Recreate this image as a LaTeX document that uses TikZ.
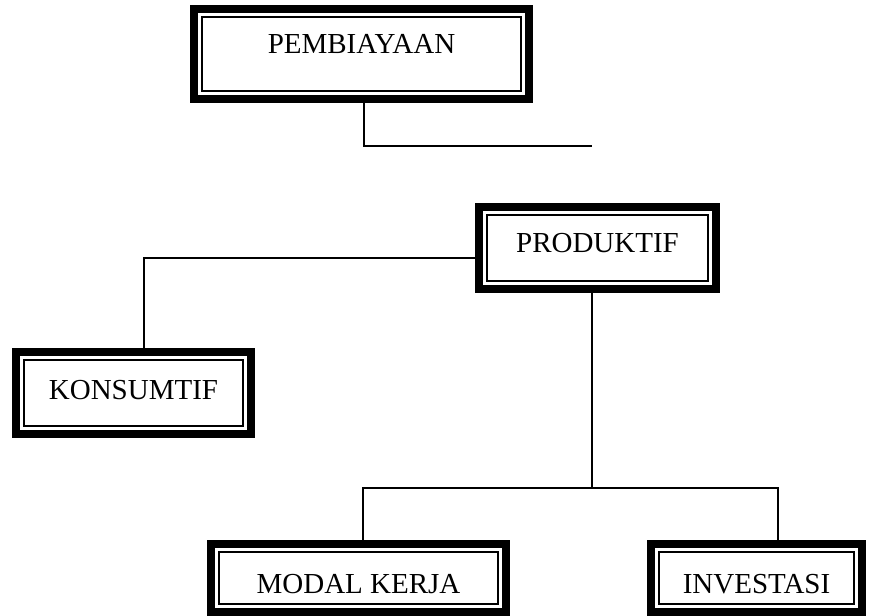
\documentclass[tikz,border=0pt]{standalone}
\usepackage{fontspec}
\setmainfont{Liberation Serif}
\usetikzlibrary{calc}

\tikzset{
  kotak/.style={draw, line width=8pt, inner sep=0pt, outer sep=0pt,
    text height=19pt, text depth=0pt,
    font=\fontsize{29}{31}\selectfont},
  garis/.style={line width=1.6pt}
}

\begin{document}
\begin{tikzpicture}[x=1pt,y=-1pt]
 			\useasboundingbox (0,0) rectangle (871,616);
 		%% \node[kotak, minimum width=w, minimum height=h] (name) at (center) {text};
 			\node[kotak, minimum width=335pt, minimum height=90pt, text depth=20pt]
 				(pemb) at (361.5,54) {PEMBIAYAAN};
 			\node[kotak, minimum width=237pt, minimum height=82pt, text depth=10pt]
 				(prod) at (597.5,248) {PRODUKTIF};
 			\node[kotak, minimum width=235pt, minimum height=82pt, text depth=6pt]
 				(kons) at (133.5,393) {KONSUMTIF};
 			\node[kotak, minimum width=295pt, minimum height=68pt, text height=31pt]
 				(modal) at (358.5,578) {MODAL KERJA};
 			\node[kotak, minimum width=211pt, minimum height=68pt, text height=31pt]
 				(invest) at (756.5,578) {INVESTASI};
 		%% garis tipis di dalam kotak
 			\foreach \n in {pemb,prod,kons,modal,invest}
 				\draw[line width=2.2pt] ($(\n.north west)+(8.3,8.3)$) rectangle ($(\n.south east)+(-8.3,-8.3)$);
 		%% penghubung
 			\coordinate (pembkaki) at (364,146);
 			\coordinate (pembujung) at (592,146);
 			\coordinate (konsatas) at (144,258);
 			\coordinate (cabang) at (592,488);
 			\coordinate (cabkiri) at (363,488);
 			\coordinate (cabkanan) at (778,488);
 			\draw[garis] (pembkaki |- pemb.south) -- (pembkaki) -- (pembujung);
 			\draw[garis] (konsatas |- kons.north) -- (konsatas) -- (konsatas -| prod.west);
 			\draw[garis] (cabang |- prod.south) -- (cabang);
 			\draw[garis] (cabkiri |- modal.north) -- (cabkiri) -- (cabkanan) -- (cabkanan |- invest.north);
 		\end{tikzpicture}
\end{document}
